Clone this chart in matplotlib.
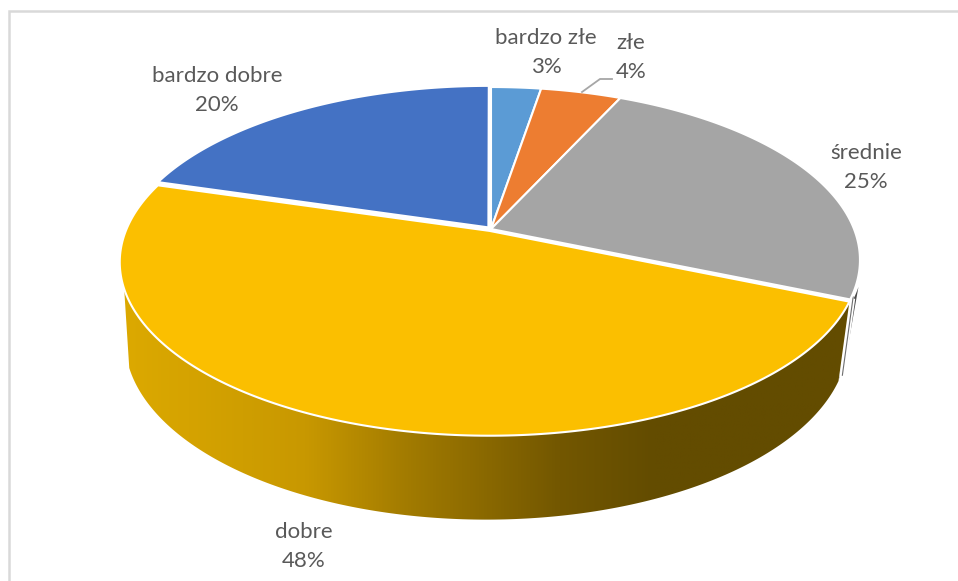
import numpy as np
import matplotlib
matplotlib.use("Agg")
import matplotlib.pyplot as plt
from matplotlib.colors import LinearSegmentedColormap
from matplotlib.patches import Polygon

categories = ['bardzo złe', 'złe', 'średnie', 'dobre', 'bardzo dobre']
values = [2.6, 4.2, 24.6, 48.2, 20.4]
colors = ['#5B9BD5', '#ED7D31', '#A5A5A5', '#FBBF00', '#4472C4']
explode = [0, 0, 0, 0.012, 0.012]
label_pos = [(546, 38), (631, 43), (866, 153), (304, 532), (217, 76)]

plt.rcParams['font.family'] = ['Lato', 'DejaVu Sans']

# perspective of the top disc and of the bottom rim, in pixels
K = 0.179
TOP = dict(cx=491, cy=229, a=363, b=167.4)
LOW = dict(cx=488, cy=306, a=355, b=173)
SIDE_ANGLE = 71  # where the side wall stops being visible, degrees from horizontal down


def project(theta, r=1.0, shift=(0, 0), p=TOP):
    # theta in degrees, clockwise from the top
    t = np.radians(theta)
    u = r * np.sin(t) + shift[0]
    v = r * np.cos(t) + shift[1]
    d = 1 + K * v
    return np.column_stack((p['cx'] + p['a'] * u / d, p['cy'] - p['b'] * v / d))


fig = plt.figure(figsize=(9.58, 5.81), dpi=100)
ax = fig.add_axes([0, 0, 1, 1])

# chart frame, only top and left are in the crop
ax.plot([9.5, 9.5, 958], [581, 10.5, 10.5], color='#d9d9d9', lw=1.8, solid_joinstyle='miter')

edges = np.cumsum([0] + values) / np.sum(values) * 360
shifts = []
for i in range(len(values)):
    mid = np.radians((edges[i] + edges[i + 1]) / 2)
    shifts.append((explode[i] * np.sin(mid), explode[i] * np.cos(mid)))

# dark sliver of the grey slice wall on the right
g0, g1 = 180 - SIDE_ANGLE, edges[3]
th = np.linspace(g0, g1, 20)
wall = np.vstack((project(th) + [3, 0], project(th[::-1], p=LOW)))
ax.add_patch(Polygon(wall, closed=True, fc='#4a4a4a', ec='none', zorder=2))
cut = np.vstack((project([g1]), project([g1], p=LOW)))
ax.plot(cut[:, 0] + 2.5, cut[:, 1] - 1, color='white', lw=3.6, zorder=2.2, solid_capstyle='butt')
ax.plot(cut[:, 0] + 3, cut[:, 1] - 3, color='#6e6e6e', lw=0.8, zorder=2.3, solid_capstyle='butt')

# side wall of the yellow slice with a left to right gradient
th = np.linspace(edges[3], 180 + SIDE_ANGLE, 200)
wall = np.vstack((project(th, shift=shifts[3]), project(th[::-1], shift=shifts[3], p=LOW)))
grad = LinearSegmentedColormap.from_list('side', [
    (0.0, '#DCA900'), (0.25, '#C89800'), (0.39, '#A27B00'),
    (0.60, '#735700'), (0.73, '#634C00'), (1.0, '#634C00')])
img = ax.imshow(np.linspace(0, 1, 512).reshape(1, -1), cmap=grad, aspect='auto',
                extent=(wall[:, 0].min(), wall[:, 0].max(), 530, 280), zorder=3)
img.set_clip_path(Polygon(wall, closed=True, transform=ax.transData))

# top faces
for i in range(len(values)):
    th = np.linspace(edges[i], edges[i + 1], 200)
    rim = project(th, shift=shifts[i])
    apex = project([0], r=0, shift=shifts[i])
    ax.add_patch(Polygon(np.vstack((apex, rim)), closed=True, fc=colors[i], ec='white',
                         lw=1.5, zorder=4, joinstyle='round'))

# labels
for name, val, (x, y) in zip(categories, values, label_pos):
    ax.text(x, y, name, ha='center', va='center', fontsize=16, color='#595959', zorder=6)
    ax.text(x, y + 29, f'{val:.0f}%', ha='center', va='center', fontsize=16, color='#595959', zorder=6)

# leader line of the small slice
ax.plot([582, 600, 612], [92, 79, 79], color='#A6A6A6', lw=1.3, zorder=5)

ax.set_xlim(0, 958)
ax.set_ylim(581, 0)
ax.axis('off')
fig.savefig('out.png', dpi=100, facecolor='white')
